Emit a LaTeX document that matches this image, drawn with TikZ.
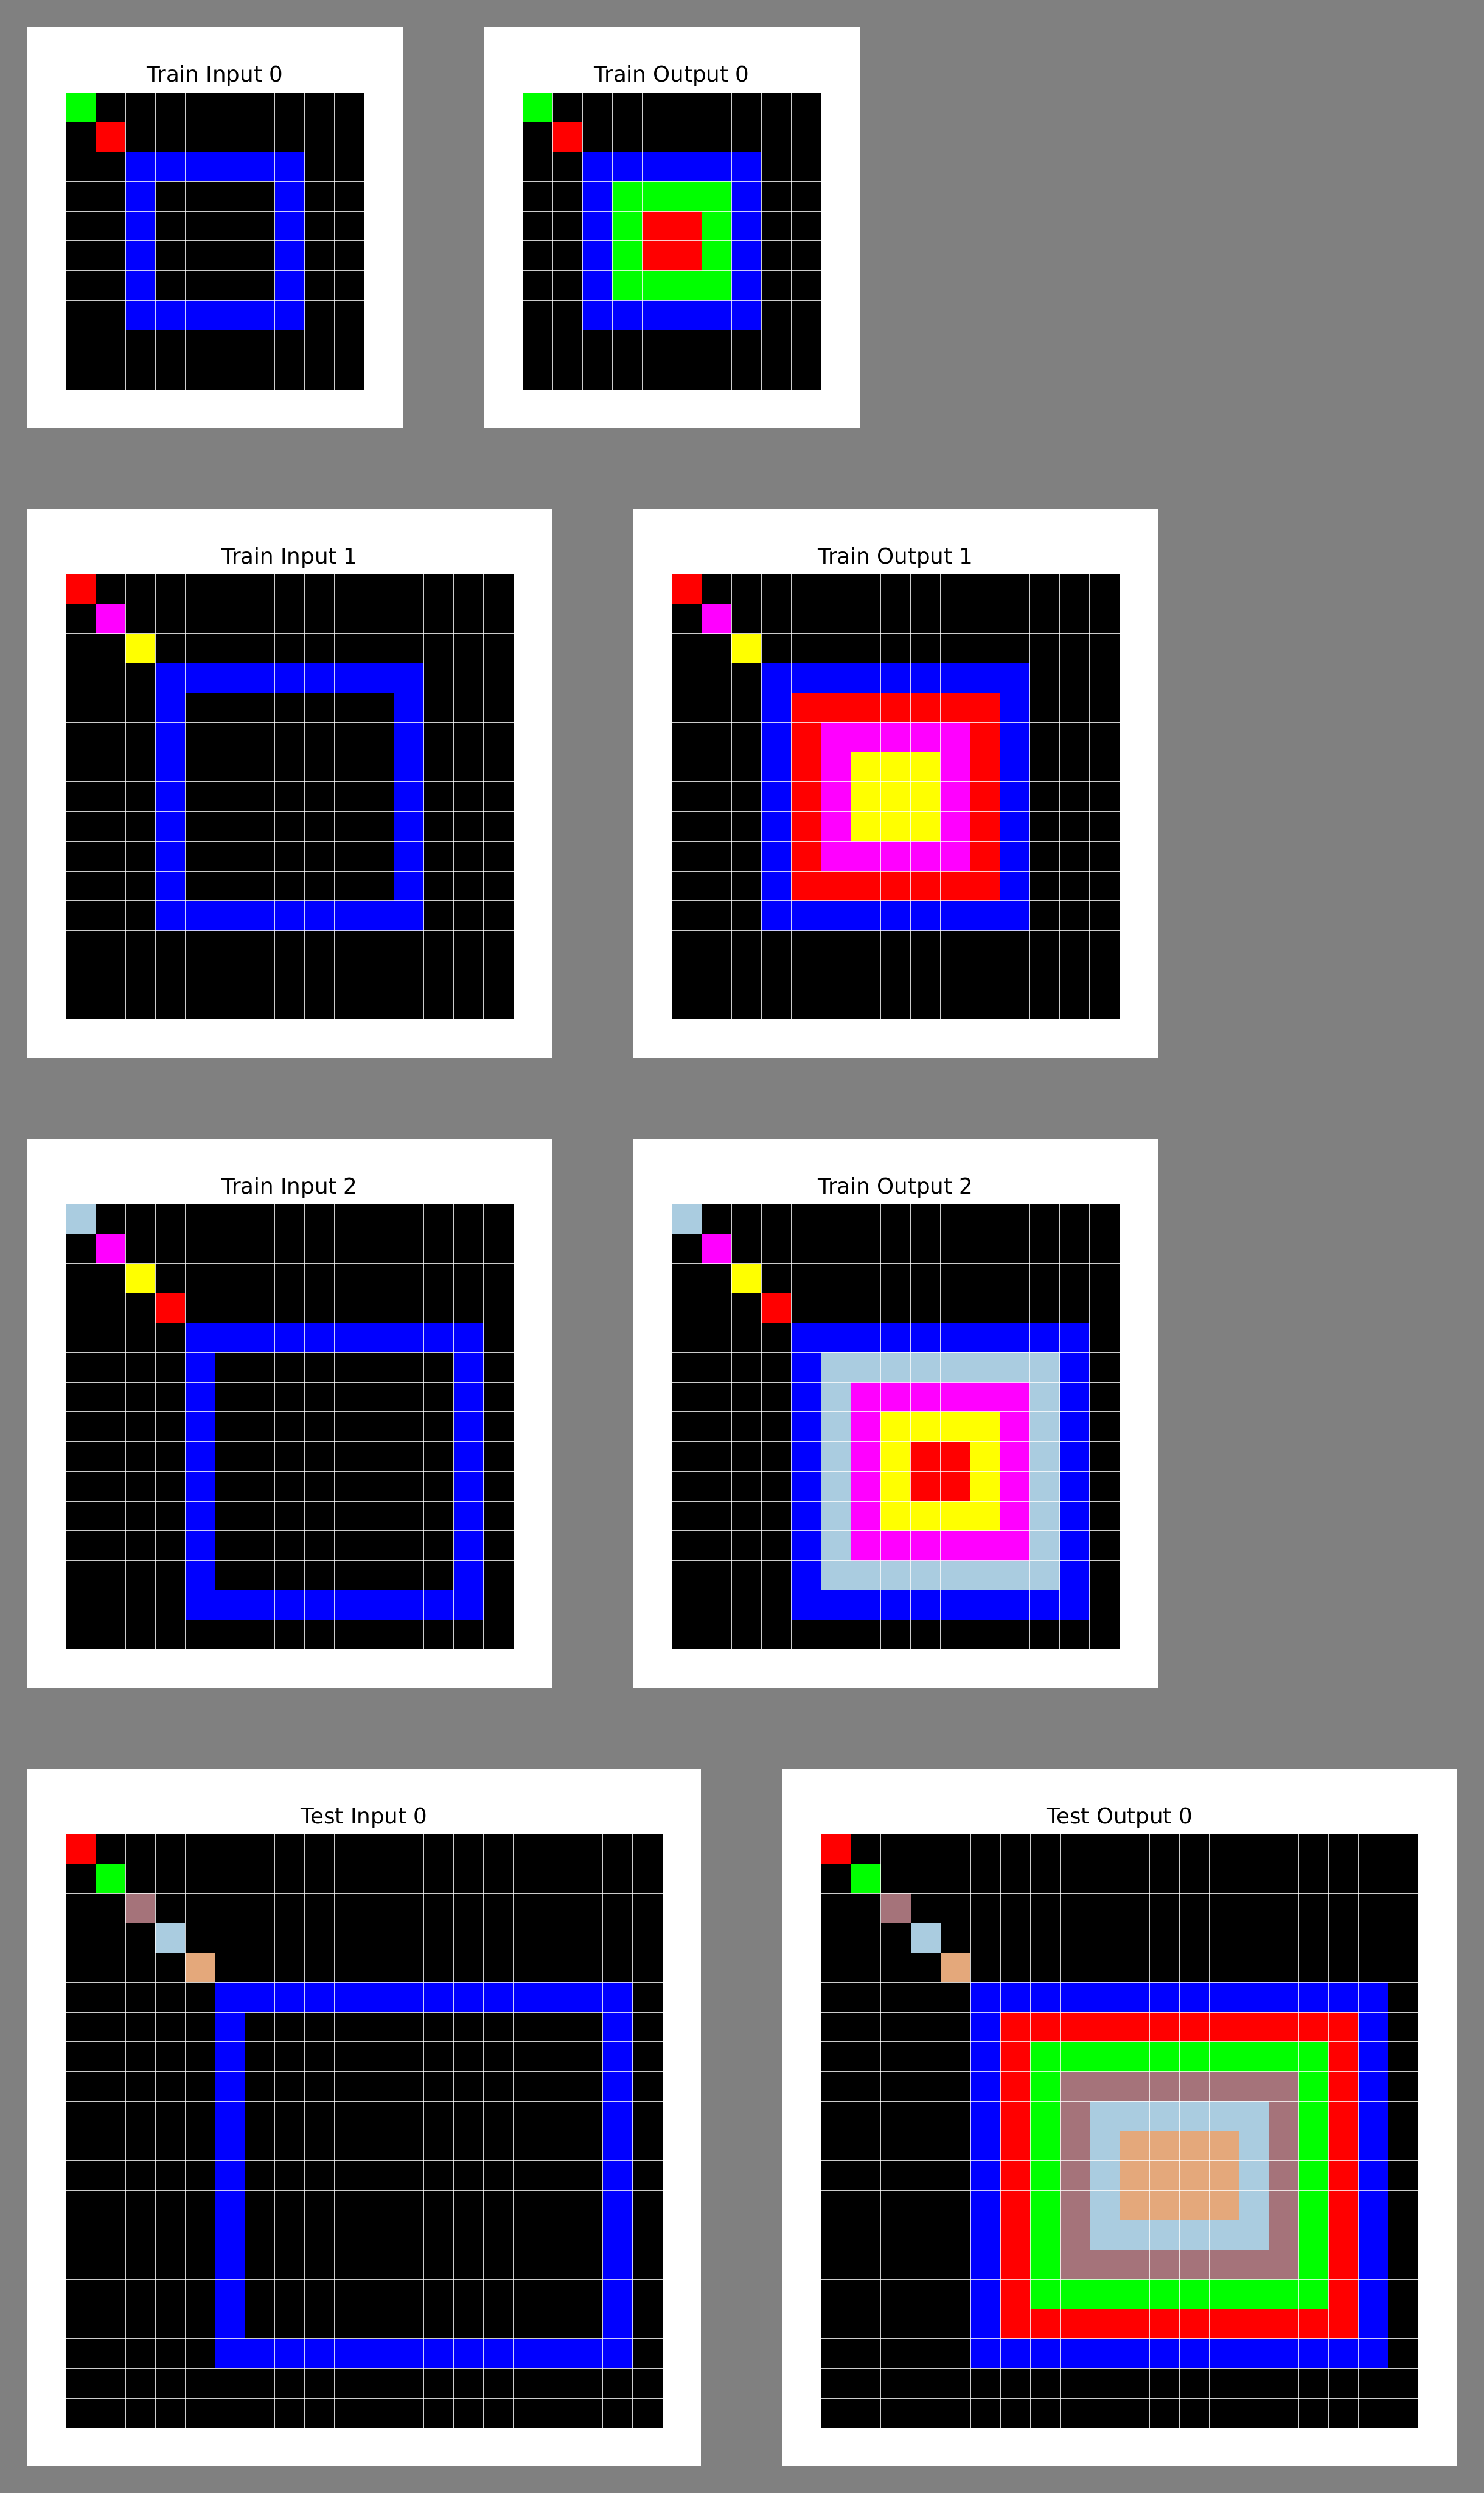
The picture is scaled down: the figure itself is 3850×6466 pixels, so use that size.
\documentclass[tikz,border=0pt]{standalone}
\usepackage{fontspec}
\setmainfont{DejaVu Sans}
\definecolor{bggray}{HTML}{808080}
\definecolor{cblue}{HTML}{0000FF}
\definecolor{cred}{HTML}{FF0000}
\definecolor{cgreen}{HTML}{00FF00}
\definecolor{cyellow}{HTML}{FFFF00}
\definecolor{cmagenta}{HTML}{FF00FF}
\definecolor{clightblue}{HTML}{AACCE0}
\definecolor{cmauve}{HTML}{A5737A}
\definecolor{ctan}{HTML}{E4A87B}
\newcommand{\CW}{77.4}
\newcommand{\CH}{77.0}
\newcommand{\arcpanel}[5]{% name, x0, y0, n, title
  \def\pGx{#2}\def\pGy{#3}\def\pGn{#4}%
  \fill[white] ({#2-101},{#3-170}) rectangle ({#2+#4*\CW+100},{#3+#4*\CH+100});
  \fill[black] (#2,#3) rectangle ({#2+#4*\CW},{#3+#4*\CH});
  \node[titletext] (#1) at ({#2+#4*\CW/2},{#3-27}) {#5};
}
\newcommand{\cellfill}[5]{% c1 r1 c2 r2 color
  \fill[#5] ({\pGx+#1*\CW},{\pGy+#2*\CH}) rectangle ({\pGx+(#3+1)*\CW},{\pGy+(#4+1)*\CH});
}
\newcommand{\gridlines}{%
  \pgfmathtruncatemacro\pGm{\pGn-1}%
  \foreach \k in {1,...,\pGm}{%
    \draw[gridline] ({\pGx+\k*\CW},\pGy) -- ({\pGx+\k*\CW},{\pGy+\pGn*\CH});
    \draw[gridline] (\pGx,{\pGy+\k*\CH}) -- ({\pGx+\pGn*\CW},{\pGy+\k*\CH});
  }%
}
\begin{document}
\begin{tikzpicture}[x=0.01cm,y=-0.01cm,
  titletext/.style={font=\fontsize{16}{19}\selectfont, anchor=base, inner sep=0pt, text=black},
  gridline/.style={draw=white, opacity=0.8, line width=0.45pt}]
\fill[bggray] (0,0) rectangle (3850,6466);
\useasboundingbox (0,0) rectangle (3850,6466);

% Train Input 0
\arcpanel{ti0}{171}{240}{10}{Train Input 0}
\cellfill{0}{0}{0}{0}{cgreen}
\cellfill{1}{1}{1}{1}{cred}
\cellfill{2}{2}{7}{7}{cblue}
\cellfill{3}{3}{6}{6}{black}
\gridlines

% Train Output 0
\arcpanel{to0}{1356}{240}{10}{Train Output 0}
\cellfill{0}{0}{0}{0}{cgreen}
\cellfill{1}{1}{1}{1}{cred}
\cellfill{2}{2}{7}{7}{cblue}
\cellfill{3}{3}{6}{6}{cgreen}
\cellfill{4}{4}{5}{5}{cred}
\gridlines

% Train Input 1
\arcpanel{ti1}{171}{1489}{15}{Train Input 1}
\cellfill{0}{0}{0}{0}{cred}
\cellfill{1}{1}{1}{1}{cmagenta}
\cellfill{2}{2}{2}{2}{cyellow}
\cellfill{3}{3}{11}{11}{cblue}
\cellfill{4}{4}{10}{10}{black}
\gridlines

% Train Output 1
\arcpanel{to1}{1743}{1489}{15}{Train Output 1}
\cellfill{0}{0}{0}{0}{cred}
\cellfill{1}{1}{1}{1}{cmagenta}
\cellfill{2}{2}{2}{2}{cyellow}
\cellfill{3}{3}{11}{11}{cblue}
\cellfill{4}{4}{10}{10}{cred}
\cellfill{5}{5}{9}{9}{cmagenta}
\cellfill{6}{6}{8}{8}{cyellow}
\gridlines

% Train Input 2
\arcpanel{ti2}{171}{3123}{15}{Train Input 2}
\cellfill{0}{0}{0}{0}{clightblue}
\cellfill{1}{1}{1}{1}{cmagenta}
\cellfill{2}{2}{2}{2}{cyellow}
\cellfill{3}{3}{3}{3}{cred}
\cellfill{4}{4}{13}{13}{cblue}
\cellfill{5}{5}{12}{12}{black}
\gridlines

% Train Output 2
\arcpanel{to2}{1743}{3123}{15}{Train Output 2}
\cellfill{0}{0}{0}{0}{clightblue}
\cellfill{1}{1}{1}{1}{cmagenta}
\cellfill{2}{2}{2}{2}{cyellow}
\cellfill{3}{3}{3}{3}{cred}
\cellfill{4}{4}{13}{13}{cblue}
\cellfill{5}{5}{12}{12}{clightblue}
\cellfill{6}{6}{11}{11}{cmagenta}
\cellfill{7}{7}{10}{10}{cyellow}
\cellfill{8}{8}{9}{9}{cred}
\gridlines

% Test Input 0
\arcpanel{tei0}{171}{4757}{20}{Test Input 0}
\cellfill{0}{0}{0}{0}{cred}
\cellfill{1}{1}{1}{1}{cgreen}
\cellfill{2}{2}{2}{2}{cmauve}
\cellfill{3}{3}{3}{3}{clightblue}
\cellfill{4}{4}{4}{4}{ctan}
\cellfill{5}{5}{18}{17}{cblue}
\cellfill{6}{6}{17}{16}{black}
\gridlines

% Test Output 0
\arcpanel{teo0}{2131}{4757}{20}{Test Output 0}
\cellfill{0}{0}{0}{0}{cred}
\cellfill{1}{1}{1}{1}{cgreen}
\cellfill{2}{2}{2}{2}{cmauve}
\cellfill{3}{3}{3}{3}{clightblue}
\cellfill{4}{4}{4}{4}{ctan}
\cellfill{5}{5}{18}{17}{cblue}
\cellfill{6}{6}{17}{16}{cred}
\cellfill{7}{7}{16}{15}{cgreen}
\cellfill{8}{8}{15}{14}{cmauve}
\cellfill{9}{9}{14}{13}{clightblue}
\cellfill{10}{10}{13}{12}{ctan}
\gridlines
\end{tikzpicture}
\end{document}
